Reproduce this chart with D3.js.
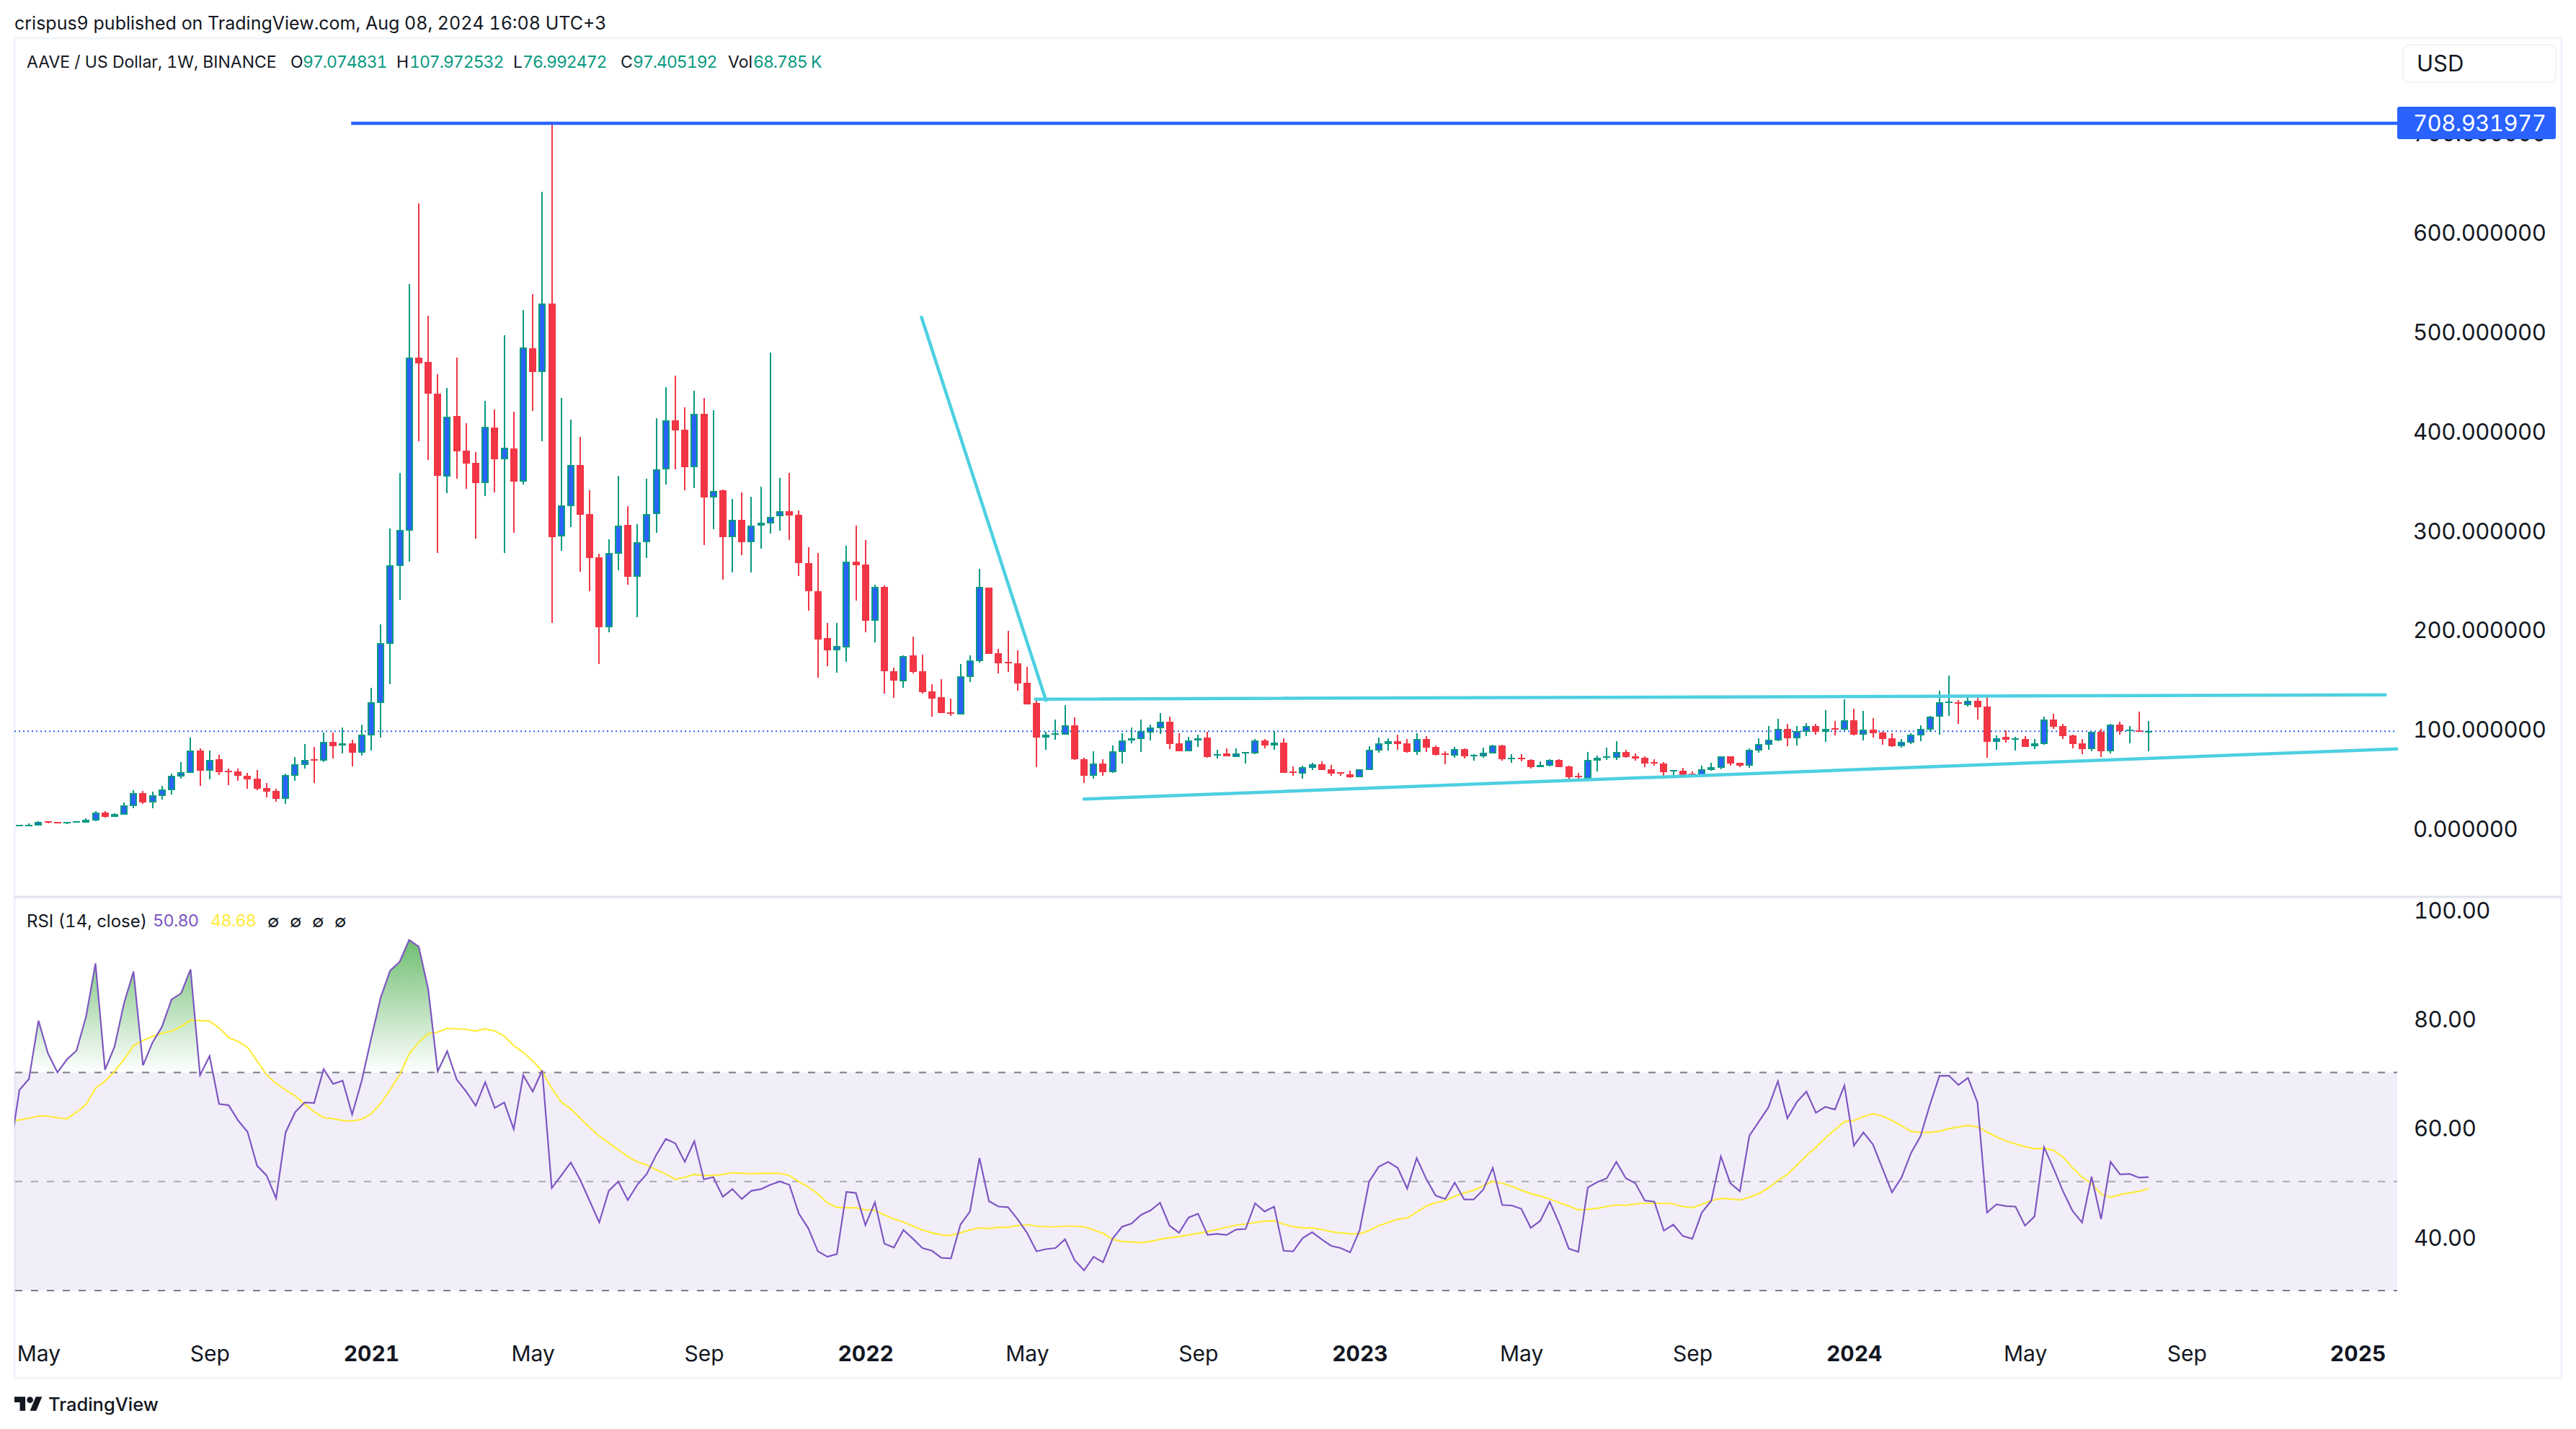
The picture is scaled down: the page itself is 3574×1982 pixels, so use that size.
<!DOCTYPE html>
<html>
<head>
<meta charset="utf-8">
<title>AAVE / US Dollar</title>
<script src="https://cdn.jsdelivr.net/npm/d3@7"></script>
<style>
  html, body { margin: 0; padding: 0; background: #fff; }
  svg { display: block; }
  text { font-family: Inter, "Noto Sans", sans-serif; fill: #131722; font-variant-numeric: tabular-nums; }
</style>
</head>
<body>
<svg id="chart" width="3574" height="1982"></svg>
<script>
// weekly candles (bar 0 = May 2020)
const opens = [
  3.2,3.2,2.9,6.8,6.2,4.8,5.6,5.4,7.6,15.7,
  11.2,13.4,22,35,25.6,32.3,38.1,51.7,55.3,77.8,
  57.5,69.2,57.5,57,52.6,49.5,40,37.3,29.3,52.6,
  63.4,69.2,67.8,87,83,85,75.6,93.4,125.8,185.5,
  263.7,299.3,473.3,468.7,436.9,353.6,414.5,379.7,367.3,347,
  402.9,371,381.8,348.5,482.6,458.7,527.6,293.4,323.8,365.2,
  315.9,272.3,202.1,276,305,252.9,287.6,316,360.8,410,
  400.7,363.2,416.6,332.7,339.6,292.7,310.4,287.2,303.9,306.6,
  313.6,319.1,315,266.4,238,191,178.6,181.7,267.8,265,
  208.8,242.4,158.1,147.7,173.4,157.4,137.3,131.4,116.5,114,
  151.9,167.8,241.7,175.8,167.1,166,146,125.5,91.1,94.8,
  93.9,103.3,69.6,52.6,64.8,56.1,76.2,88,89.8,96.3,
  100.5,106.8,84.9,76.9,88,90.8,72.8,74.8,71.4,75,
  74.8,88,83.2,85.6,56.8,55,60.8,63.9,58.9,56,
  54,51.4,58.6,78.2,84.7,87.4,85.2,76.7,89.3,81.6,
  75,73.1,79.2,72.6,72.4,75.3,83,69.5,70.7,68.5,
  61.3,62.7,68.5,62,52.6,49.7,67.8,70.7,70.7,76.5,
  72.2,70.7,66.4,64.9,57.3,57.7,54.8,52.6,58.4,60.6,
  72.2,65.6,62.7,78,83.8,88.1,99.7,90.3,96.8,102.6,
  96.8,100.4,99,108.4,93.9,99,96.1,90.3,82.3,85.9,
  93.2,99,112,126.1,126.5,123.6,128,122.2,86.7,91.7,
  88.8,89.6,82.3,84.5,109.1,102.6,93.2,85.2,79.4,96.8,
  77.2,104,97.5,98.3,97.07
];
const highs = [
  3.6,4.6,7,6.8,6.2,6.4,6.8,9.5,17,17,
  14.8,25.6,38.1,37,36.5,42.3,54.8,66.4,90.9,80,
  77.8,73.7,59.5,59.5,55.3,58.4,45.3,39.5,54.8,71.4,
  84.5,81.4,96.1,96.1,101.1,88.9,103.9,141,205,301,
  357,547.1,628.3,515,456.5,442.7,473.2,407.2,378.2,429.7,
  421,495.6,418.8,520.9,537.1,639.9,708.93,432.6,410.8,393.4,
  339.8,276,290.5,354.3,323.8,305.7,351.4,412.1,443.3,455.1,
  423.2,439.9,432.6,420.1,340.3,330.9,337.5,333,343.4,478,
  352.1,357,319.5,282.3,276.4,206,206,283.7,304.2,289.6,
  244.5,243.8,161.6,173.4,192.5,174.1,144.6,150.1,130,164.7,
  173.4,260.5,241.7,180,198,178.6,162,128,97,108.8,
  123.4,111.3,70.7,76.9,68.9,82.8,95.3,101.5,108.8,104,
  115.4,112,95.3,91.5,93.6,96.7,78.6,80.4,80,76.5,
  89.4,89.4,97.7,90.1,62.3,62.5,65.6,67.1,63.2,56,
  57.7,58.9,82.3,90.8,90.3,93.7,89.6,95.4,92.5,83,
  77.2,81.6,80.1,74.3,80.9,83.8,83.8,74.3,74.3,69.3,
  67.1,69.3,69.3,62.7,55.5,76.5,72.9,80.9,87.4,78.7,
  75,72.2,69.3,66.4,58.4,60.6,56.9,62.7,65.6,72.2,
  72.2,65.6,80.1,90.3,102.6,109.9,104.8,102.6,105.5,104.8,
  118.6,107.7,129.4,120,117.8,110.6,96.8,95.4,89.6,95.4,
  103.3,112.5,138.1,153.4,128.7,131.6,130.9,133.1,93.2,98.3,
  91.7,92.5,89.6,112,114.9,104.8,93.9,89.6,96.8,99.7,
  104.8,107,102.6,117.1,107.97
];
const lows = [
  3,3.1,2.9,4.8,4.8,4,5.6,5.4,6.8,10.4,
  11.2,13.4,19.8,24.3,19.8,28.7,33.7,49.5,55.3,42.3,
  49,53.1,43.1,47.6,39.5,38.1,30.6,26.5,24.5,47.6,
  59.8,45.3,66.4,70,75,62,72.8,77.8,90.9,144.7,
  229.6,267.9,389.3,370.5,276.9,336.9,351.4,341.2,291.2,334,
  337.6,276.9,297,345.6,419.6,389.1,206.6,278.9,302.8,257.9,
  238.2,165,197.1,259.6,244.6,212.4,271.6,297.3,345.8,361.1,
  339.9,342,284.4,300.7,249.7,257.4,274.7,257.4,280.9,296.2,
  299,289.6,253.2,218.5,151.5,162.6,156,167.1,228.6,196.6,
  186.9,135.2,130.7,141.1,155.3,135.2,112.3,115.4,112.7,114,
  147,166.4,175.1,155.3,157.1,138,124.1,61,79,88.7,
  93.9,68.2,45,49.9,52.6,55.4,65.1,84.9,76.2,88.4,
  95,79.3,76.9,76.9,81.4,70.7,70,72,71.4,65.1,
  74,80,79,55.8,52.6,49.9,58.6,58.6,52.8,52.8,
  50.4,51.4,58.6,76,78,78.7,75.8,73.9,76.7,72.9,
  64.2,70.7,70.2,67.8,70.7,75.3,67.8,65.9,67.1,60,
  61.3,62,61.3,46.8,48.2,49.7,57,68.5,68.5,70.7,
  67.8,61.3,62.7,49.7,52.6,53.3,53,51.1,58,59.1,
  62.7,61.3,60.6,75.8,78.7,87.4,82.3,83,92.5,93.9,
  86.7,93.2,98.3,93.2,88.1,91,83.8,81.6,80.9,84.5,
  87.4,96.8,93.9,112.8,104.8,122.2,109.1,70.7,78.7,85.9,
  78,81.6,79.4,83.8,99.7,89.6,80.1,74.3,77.2,71.4,
  75,93.9,85.2,96.8,76.99
];
const closes = [
  3.6,3.6,6.2,5.6,4.8,6.2,6.8,8.2,15.7,11.2,
  14,22.9,35,25.6,32.9,38.7,52.6,56.2,77.8,57.5,
  68.4,56.2,56.2,52.6,49,39.5,36.5,29.3,53.1,64.2,
  68.4,67.8,87,82.5,85.1,75.6,94,126.4,186,264.3,
  299.8,473.3,467.5,437,354.3,413.5,378.9,366.6,347,403.6,
  371,382.6,348.5,483.3,458.7,527.6,292.7,324.6,365.2,315.1,
  271.6,202.1,276.7,304.2,252.9,287.6,315.9,360.8,410,400.3,
  363.2,416.6,332.7,339.2,292.7,310.4,287.2,303.9,307,313.2,
  319.1,314.6,266.7,238.3,190,178.6,183.1,267.8,264.3,208.8,
  242.4,157.8,148.4,172.7,157.1,136.9,130,115.4,115.4,152.6,
  168.5,242.4,175.1,165.4,165.4,145.6,124.1,91.1,93.6,95.7,
  103.3,69,52.6,64.8,56.1,76.9,88,90.1,97.4,100.9,
  106.8,84.2,76.9,88,90.5,71.7,74.1,72.4,74.8,76.2,
  88,82.8,85.6,55.8,55.4,61.3,63.9,58.6,55,55,
  51.4,58.9,78.4,85,87.1,84.5,76.3,89.3,81.1,73.9,
  73.9,79.2,72.4,73.6,75.8,83,69.3,70.7,69.5,61.3,
  63.5,68.5,61.3,51.1,51.1,68.5,70.7,72.2,76.5,71.4,
  70,64.9,64.9,56.2,58.4,53.3,53.3,59.1,61.3,72.2,
  64.9,62.7,78.7,84.5,88.8,99.7,90.3,97.5,102.6,96.8,
  99.7,99.2,108.4,93.9,99,95.4,89.6,82.3,86.7,93.9,
  99.7,112,126.5,127,125.1,128,121.5,86.7,90.3,88.8,
  90,81.6,85.2,109.1,101.9,92.5,84.5,79.4,96.8,77.2,
  104,97.5,99,96.8,97.41
];

// RSI and its moving average, first value is the bar just before the left edge
const rsiValues = [
  55.5,66.8,68.8,79.5,73.5,70,72.4,74,80.2,90,
  70.5,74.7,82.7,88.5,71.3,75.5,78.4,83.4,84.5,88.9,
  69.5,73,64.2,64,61.2,59.1,52.9,51.1,46.9,59,
  62.7,64.5,64.4,70.6,67.9,68.5,62.3,68.4,76.2,83.7,
  88.7,90.3,94.3,93.1,85.3,70.2,73.9,68.7,66.5,63.9,
  68.2,63.5,64.5,59.6,69.5,66.5,70.4,48.8,51.1,53.5,
  50.3,46.4,42.5,48.3,50,46.6,49.4,51.4,54.9,57.8,
  57,53.6,57.4,50.4,50.8,47.2,48.6,46.8,48.3,48.6,
  49.4,50,49.4,44.1,41.4,37.2,36.2,36.7,48.1,47.9,
  42,46.2,38.6,37.9,41.1,39.5,37.8,37.3,36,35.9,
  42.1,44.5,54.3,46.4,45.4,45.3,43.1,40.6,37.2,37.6,
  37.8,39.4,35.6,33.7,36.2,35.2,39.5,41.7,42.3,43.9,
  44.7,46.1,41.9,40.6,43.4,44.1,40.2,40.4,40.2,41.2,
  41.3,46,44.5,45.4,37.3,37.2,39.6,40.7,39.4,38.2,
  37.8,37,41.1,50,52.7,53.6,52.5,48.7,54.3,50.5,
  47.4,46.8,49.8,46.7,46.7,48.5,52.5,45.7,45.6,45,
  41.5,42.8,46.3,42.3,37.7,37.1,48.9,49.9,50.6,53.6,
  50.6,49.7,46.5,46.3,41,42.1,40,39.5,44.3,46.5,
  54.6,49.7,48.2,58.4,61,63.6,68.4,61.6,64.6,66.5,
  62.6,63.7,63.2,67.6,56.6,59,56.8,52.4,48,50.7,
  55.2,58.3,64.1,69.4,69.4,67.7,69,64.5,44.3,45.8,
  45.5,45.4,41.9,43.6,56.3,52.4,48.2,44.6,42.5,50.9,
  43.1,53.6,51.3,51.4,50.7,50.8
];
const rsiMa = [
  61.1,61.3,61.6,62,62,61.7,61.5,62.7,64.1,67.1,
  68.4,70.2,72.4,74.9,75.9,76.6,77.2,77.6,78.4,79.6,
  79.5,79.4,78.2,76.4,75.7,74.6,72.1,69.6,68,66.8,
  65.7,64.2,62.8,61.7,61.5,61.2,61.1,61.4,62.4,64.3,
  66.8,69.6,73.4,75.5,77.1,77.4,78.1,78,77.9,77.6,
  78,77.6,76.7,74.9,73.7,72.1,70.2,67.1,64.6,63.3,
  61.6,59.9,58.3,57.1,55.8,54.6,53.6,53,52.1,51.4,
  50.4,50.8,51.3,51.1,51.1,51.3,51.6,51.5,51.4,51.5,
  51.5,51.5,51.1,50,49,47.7,46.1,45.3,45.2,45.2,
  44.8,44.7,43.9,43.1,42.6,41.8,41.1,40.6,40.2,40.1,
  40.6,41.1,41.5,41.4,41.6,41.6,41.9,42.1,41.8,41.7,
  41.7,41.8,41.8,41.7,41.1,40.5,39.4,39,38.9,38.8,
  39,39.4,39.7,39.9,40.2,40.5,40.8,41.2,41.6,42,
  42.2,42.5,42.7,42.8,42.2,41.7,41.5,41.5,41.2,40.8,
  40.6,40.4,40.4,41,41.9,42.5,43.1,43.3,44.4,45.5,
  46.1,46.5,47.3,47.9,48.4,49.2,50,49.7,49.1,48.4,
  47.8,47.3,46.8,46.1,45.5,44.8,44.9,45.1,45.4,45.7,
  45.6,45.9,46,46,46,45.9,45.4,45.2,45.8,46.5,
  46.9,46.8,46.6,47.1,47.8,48.8,50.2,51.3,53,54.7,
  56.3,58,59.5,61,61.2,61.9,62.4,62,61.2,60.2,
  59.2,59,59,59.2,59.7,60,60.3,60,59.1,58.2,
  57.4,56.9,56.4,56,56.1,55.7,54.5,52.5,50.8,49.6,
  47.7,47.1,47.6,47.9,48.2,48.68
];

const priceTicks = [0, 100, 200, 300, 400, 500, 600, 700];
const rsiTicks = [40, 60, 80, 100];
const rsiLevels = [70, 50, 30];
const timeTickBars = [2, 20, 37, 54, 72, 89, 106, 124, 141, 158, 176, 193, 211, 228, 246];
const timeTickLabels = ["May", "Sep", "2021", "May", "Sep", "2022", "May", "Sep", "2023", "May", "Sep", "2024", "May", "Sep", "2025"];

const allTimeHigh = 708.931977;
const lastClose = 97.405192;
// drawings as [bar, price]
const wedgeDrop = [[94.9, 513.8], [108, 128.4]];
const wedgeTop = [[106.9, 129.7], [248.9, 134]];
const wedgeBottom = [[112, 29.2], [250.1, 79.6]];
const athFrom = 34.9;

const green = "#089981", red = "#f23645", blue = "#2962ff", cyan = "#4dd0e1";
const purple = "#7e57c2", yellow = "#ffeb3b", border = "#f0f3fa";

const plotLeft = 20, plotRight = 3326, frameRight = 3554, frameTop = 53, paneSep = 1244, frameBottom = 1911;

const svg = d3.select("#chart");

const x = d3.scaleLinear().domain([0, 224]).range([27, 2981]);
const y = d3.scaleLinear().domain([0, allTimeHigh]).range([1148.5, 171]);
const yRsi = d3.scaleLinear().domain([30, 70]).range([1790, 1487.5]);

// frame
svg.append("rect").attr("x", plotLeft).attr("y", frameTop).attr("width", frameRight - plotLeft).attr("height", frameBottom - frameTop)
  .attr("fill", "#fff").attr("stroke", border).attr("stroke-width", 3);
svg.append("line").attr("x1", plotLeft).attr("x2", frameRight).attr("y1", paneSep).attr("y2", paneSep)
  .attr("stroke", "#e0e3eb").attr("stroke-width", 3);

const defs = svg.append("defs");
defs.append("clipPath").attr("id", "plot").append("rect")
  .attr("x", plotLeft).attr("y", frameTop).attr("width", plotRight - plotLeft).attr("height", frameBottom - frameTop);
defs.append("clipPath").attr("id", "above70").append("rect")
  .attr("x", plotLeft).attr("y", paneSep).attr("width", plotRight - plotLeft).attr("height", yRsi(70) - paneSep);
const grad = defs.append("linearGradient").attr("id", "obFill")
  .attr("gradientUnits", "userSpaceOnUse").attr("x1", 0).attr("x2", 0)
  .attr("y1", yRsi(100)).attr("y2", yRsi(70));
grad.append("stop").attr("offset", 0).attr("stop-color", "#4caf50").attr("stop-opacity", 1);
grad.append("stop").attr("offset", 1).attr("stop-color", "#4caf50").attr("stop-opacity", 0);

// price axis, the 700 label sits behind the blue tag like in the original
const priceAxis = d3.axisRight(y).tickValues(priceTicks).tickFormat(d3.format(".6f")).tickSize(0).tickPadding(0);
const gp = svg.append("g").attr("transform", "translate(3348,1)").call(priceAxis);
gp.select(".domain").remove();
gp.selectAll("text").attr("font-size", 31).attr("dy", ".36em").attr("letter-spacing", -0.5);
gp.attr("font-family", null).attr("font-size", null);

// last price line
svg.append("line").attr("x1", plotLeft).attr("x2", plotRight).attr("y1", y(lastClose)).attr("y2", y(lastClose))
  .attr("stroke", blue).attr("stroke-width", 2).attr("stroke-dasharray", "2 4");

// candles
const bars = d3.range(opens.length);
const candles = svg.append("g").selectAll("g").data(bars).enter().append("g")
  .attr("shape-rendering", "crispEdges");
candles.append("rect")
  .attr("x", i => Math.round(x(i)) - 1)
  .attr("width", 2)
  .attr("y", i => y(highs[i]))
  .attr("height", i => y(lows[i]) - y(highs[i]))
  .attr("fill", i => closes[i] >= opens[i] ? green : red);
candles.append("rect")
  .attr("x", i => Math.round(x(i)) - 5)
  .attr("width", 10)
  .attr("y", i => Math.min(y(opens[i]), y(closes[i])))
  .attr("height", i => Math.max(2, Math.abs(y(opens[i]) - y(closes[i]))))
  .attr("fill", i => closes[i] >= opens[i] ? green : red);
candles.filter(i => closes[i] >= opens[i] && Math.abs(y(opens[i]) - y(closes[i])) > 4)
  .append("rect")
  .attr("x", i => Math.round(x(i)) - 3)
  .attr("width", 6)
  .attr("y", i => y(closes[i]) + 2)
  .attr("height", i => y(opens[i]) - y(closes[i]) - 4)
  .attr("fill", blue);

// trend lines
const pen = d3.line().x(d => x(d[0])).y(d => y(d[1]));
[wedgeDrop, wedgeTop, wedgeBottom].forEach(pts => {
  svg.append("path").attr("d", pen(pts)).attr("fill", "none")
    .attr("stroke", cyan).attr("stroke-width", 4.5).attr("stroke-linecap", "round");
});
svg.append("path").attr("d", pen([[athFrom, allTimeHigh], [x.invert(plotRight), allTimeHigh]]))
  .attr("fill", "none").attr("stroke", blue).attr("stroke-width", 4.5);

// ATH tag
svg.append("rect").attr("x", plotRight).attr("y", 148).attr("width", 220).attr("height", 45).attr("rx", 3).attr("fill", blue);
svg.append("text").attr("x", 3348).attr("y", y(allTimeHigh)).attr("dy", ".36em")
  .attr("font-size", 31).attr("letter-spacing", -0.5).style("fill", "#fff").text("708.931977");

// USD button
svg.append("rect").attr("x", 3334).attr("y", 62).attr("width", 212).attr("height", 52).attr("rx", 9)
  .attr("fill", "#fff").attr("stroke", border).attr("stroke-width", 2);
svg.append("text").attr("x", 3353).attr("y", 88).attr("dy", ".36em").attr("font-size", 31).text("USD");

// rsi pane
svg.append("rect").attr("x", plotLeft).attr("width", plotRight - plotLeft)
  .attr("y", yRsi(70)).attr("height", yRsi(30) - yRsi(70)).attr("fill", purple).attr("fill-opacity", 0.1);

const rsiBars = d3.range(-1, rsiValues.length - 1);
const rsiArea = d3.area().x(i => x(i)).y0(yRsi(70)).y1(i => yRsi(rsiValues[i + 1]));
svg.append("g").attr("clip-path", "url(#above70)").append("path").datum(rsiBars)
  .attr("d", rsiArea).attr("fill", "url(#obFill)");

svg.selectAll("line.level").data(rsiLevels).enter().append("line").attr("class", "level")
  .attr("x1", plotLeft).attr("x2", plotRight).attr("y1", d => yRsi(d)).attr("y2", d => yRsi(d))
  .attr("stroke", "#787b86").attr("stroke-opacity", d => d === 50 ? 0.6 : 1)
  .attr("stroke-width", 2).attr("stroke-dasharray", "10 12").attr("stroke-dashoffset", -1);

const rsiG = svg.append("g").attr("clip-path", "url(#plot)");
rsiG.append("path").datum(rsiBars)
  .attr("d", d3.line().x(i => x(i)).y(i => yRsi(rsiMa[i + 1])))
  .attr("fill", "none").attr("stroke", yellow).attr("stroke-width", 2.2);
rsiG.append("path").datum(rsiBars)
  .attr("d", d3.line().x(i => x(i)).y(i => yRsi(rsiValues[i + 1])))
  .attr("fill", "none").attr("stroke", purple).attr("stroke-width", 2.2);

const rsiAxis = d3.axisRight(yRsi).tickValues(rsiTicks).tickFormat(d3.format(".2f")).tickSize(0).tickPadding(0);
const gr = svg.append("g").attr("transform", "translate(3349,1.5)").call(rsiAxis);
gr.select(".domain").remove();
gr.selectAll("text").attr("font-size", 31).attr("dy", ".36em").attr("letter-spacing", -0.5);
gr.attr("font-family", null).attr("font-size", null);

// time axis
const timeAxis = d3.axisBottom(x).tickValues(timeTickBars)
  .tickFormat((d, i) => timeTickLabels[i]).tickSize(0).tickPadding(0);
const gt = svg.append("g").attr("transform", "translate(0,1877.5)").call(timeAxis);
gt.select(".domain").remove();
gt.selectAll("text").attr("font-size", 30).attr("y", 0).attr("dy", ".36em")
  .attr("font-weight", (d, i) => /^\d/.test(timeTickLabels[i]) ? 700 : 400);
gt.attr("font-family", null).attr("font-size", null);

// header and legends
function label(px, py, txt, size, color, spacing) {
  return svg.append("text").attr("x", px).attr("y", py).attr("dy", ".36em")
    .attr("font-size", size).attr("letter-spacing", spacing || 0)
    .style("fill", color || "#131722").text(txt);
}
label(20, 32, "crispus9 published on TradingView.com, Aug 08, 2024 16:08 UTC+3", 25);
label(37, 86, "AAVE / US Dollar, 1W, BINANCE", 23);
label(403, 86, "O", 23);
label(420, 86, "97.074831", 23, green, -1);
label(550, 86, "H", 23);
label(568, 86, "107.972532", 23, green, -1);
label(712, 86, "L", 23);
label(725, 86, "76.992472", 23, green, -1);
label(861, 86, "C", 23);
label(878, 86, "97.405192", 23, green, -1);
label(1010, 86, "Vol", 23);
label(1045, 86, "68.785 K", 23, green, -1);

label(37, 1277, "RSI (14, close)", 24);
label(212, 1277, "50.80", 23.5, purple, -0.8);
label(292, 1277, "48.68", 23.5, yellow, -0.8);
[379, 410, 441, 472].forEach(px => label(px - 8, 1277, "∅", 24));

// footer
svg.append("g").attr("transform", "translate(20,1933) scale(1.08)").call(g => {
  g.append("path").attr("d", "M14 22H7V11H0V4h14v18zM28 22h-8l7.5-18h8L28 22z").attr("fill", "#131722");
  g.append("circle").attr("cx", 20).attr("cy", 8).attr("r", 4).attr("fill", "#131722");
});
label(67, 1948, "TradingView", 25.5).attr("font-weight", 500);
</script>
</body>
</html>
